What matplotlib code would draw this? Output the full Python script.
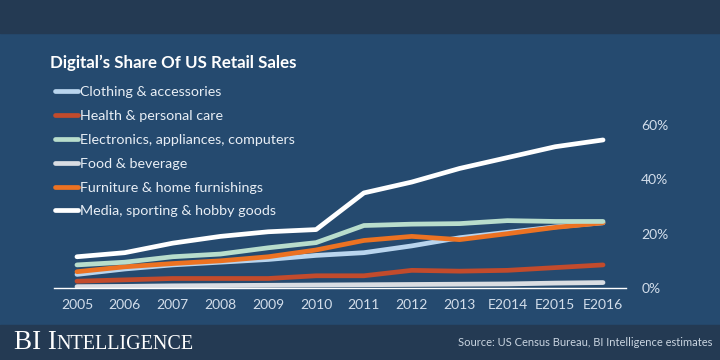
import numpy as np
import matplotlib
matplotlib.use('Agg')
import matplotlib.pyplot as plt

plt.rcParams['font.family'] = ['Lato', 'DejaVu Sans']

years = ['2005', '2006', '2007', '2008', '2009', '2010', '2011', '2012', '2013', 'E2014', 'E2015', 'E2016']
clothing = [5, 7, 8.5, 9.5, 10.5, 12, 13, 15.5, 18.5, 20.5, 22.5, 24]
health = [2.5, 3, 3.5, 3.5, 3.5, 4.5, 4.5, 6.5, 6.2, 6.5, 7.5, 8.5]
electronics = [8.5, 9.5, 11.5, 12.5, 14.8, 16.7, 23, 23.5, 23.7, 24.8, 24.5, 24.5]
food = [0.5, 0.6, 0.8, 0.9, 1.0, 1.1, 1.2, 1.3, 1.4, 1.5, 1.8, 2.0]
furniture = [6, 7.8, 9, 10, 11.5, 14, 17.5, 19, 17.8, 20, 22.3, 24]
media = [11.5, 13, 16.5, 19, 20.7, 21.5, 35, 39, 44, 48, 52, 54.5]
yticks = [0, 20, 40, 60]

series = [
    ('Clothing & accessories', clothing, '#b9d5ee', 3),
    ('Health & personal care', health, '#c24b2c', 2),
    ('Electronics, appliances, computers', electronics, '#b8ddcc', 5),
    ('Food & beverage', food, '#d9dde3', 1),
    ('Furniture & home furnishings', furniture, '#ec7222', 4),
    ('Media, sporting & hobby goods', media, '#ffffff', 6),
]

panel = '#254a6f'
band = '#243a53'
fig = plt.figure(figsize=(7.2, 3.6), dpi=100)
fig.patch.set_facecolor(panel)
fig.add_artist(plt.Rectangle((0, 1 - 33/360), 1, 33/360, transform=fig.transFigure, color=band, zorder=0))
fig.add_artist(plt.Rectangle((0, 0), 1, 35/360, transform=fig.transFigure, color=band, zorder=0))

ax = fig.add_axes([54/720, 1 - 288/360, 572/720, 163/360])
ax.set_facecolor('none')
x = np.arange(len(years))
handles = []
for name, vals, col, z in series:
    h, = ax.plot(x, vals, color=col, lw=3.4, solid_capstyle='round', solid_joinstyle='round',
                 zorder=z, clip_on=False, label=name)
    handles.append(h)

ax.set_xlim(-0.48, 11.48)
ax.set_ylim(0, 60)
for s in ['top', 'left', 'right']:
    ax.spines[s].set_visible(False)
ax.spines['bottom'].set_color('white')
ax.spines['bottom'].set_linewidth(1)
ax.set_xticks(x)
ax.set_xticklabels(years)
ax.set_yticks(yticks)
ax.set_yticklabels([f'{v}%' for v in yticks])
ax.yaxis.tick_right()
ax.tick_params(axis='both', length=0, colors='#d3deeb', labelsize=10)
ax.tick_params(axis='x', pad=8)
ax.tick_params(axis='y', pad=11)

fig.text(50/720, 1 - 63/360, 'Digital\u2019s Share Of US Retail Sales', color='white',
         fontsize=12.2, fontweight='bold', va='center')
leg = fig.legend(handles=handles, loc='upper left', bbox_to_anchor=(55/720, 1 - 86/360),
                 frameon=False, fontsize=10.3, handlelength=1.6, handletextpad=0.15,
                 labelspacing=0.83, borderaxespad=0, borderpad=0)
for t in leg.get_texts():
    t.set_color('#e8eef5')

fig.text(712/720, 1 - 342/360, 'Source: US Census Bureau, BI Intelligence estimates',
         color='#c9d4e0', fontsize=8, ha='right', va='center')

# small caps logo
fig.canvas.draw()
r = fig.canvas.get_renderer()
t1 = fig.text(14/720, 1 - 349/360, 'BI I', color='white', fontsize=19.5,
              family='Liberation Serif', va='baseline')
bb = t1.get_window_extent(r)
fig.text(bb.x1 / 720, 1 - 349/360, 'NTELLIGENCE', color='white', fontsize=14.5,
         family='Liberation Serif', va='baseline')

fig.savefig('out.png', dpi=100, facecolor=fig.get_facecolor())
